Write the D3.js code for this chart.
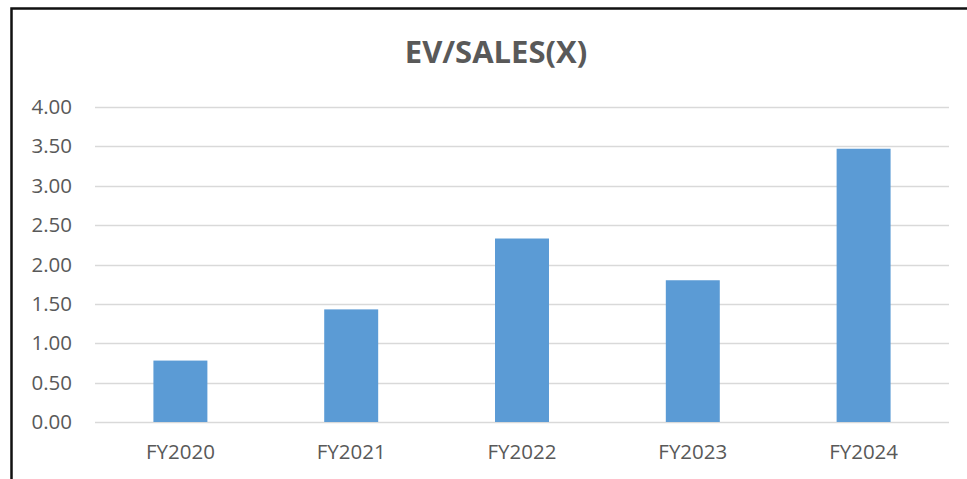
<!DOCTYPE html>
<html>
<head>
<meta charset="utf-8">
<script src="https://cdn.jsdelivr.net/npm/d3@7"></script>
<style>
  html, body { margin: 0; padding: 0; background: #ffffff; }
  svg { display: block; }
</style>
</head>
<body>
<script>
// EV/Sales multiple by fiscal year
const categories = ["FY2020", "FY2021", "FY2022", "FY2023", "FY2024"];
const evSales = [0.78, 1.43, 2.33, 1.80, 3.47];
const yTicks = [0, 0.5, 1, 1.5, 2, 2.5, 3, 3.5, 4];
const chartTitle = "EV/SALES(X)";

const W = 967, H = 479;
const margin = { left: 95, right: 18, top: 107, bottom: 57 };

const svg = d3.select("body").append("svg")
  .attr("width", W).attr("height", H);

// frame: dark rule along the top and left edge
svg.append("path")
  .attr("d", `M11.5,${H} L11.5,8.5 L${W},8.5`)
  .attr("fill", "none")
  .attr("stroke", "#111")
  .attr("stroke-width", 2.5);

const x = d3.scaleBand()
  .domain(categories)
  .range([margin.left, W - margin.right])
  .paddingInner(0.684)
  .paddingOuter(0.342);

const y = d3.scaleLinear()
  .domain([0, 4])
  .range([H - margin.bottom, margin.top]);

const font = "'Open Sans', 'Liberation Sans', sans-serif";
const textColor = "#595959";

// gridlines
svg.append("g")
  .selectAll("line")
  .data(yTicks)
  .join("line")
  .attr("x1", margin.left)
  .attr("x2", W - margin.right)
  .attr("y1", d => Math.round(y(d)) + 0.5)
  .attr("y2", d => Math.round(y(d)) + 0.5)
  .attr("stroke", "#d9d9d9")
  .attr("stroke-width", 1.5);

// y axis labels
const yAxis = d3.axisLeft(y)
  .tickValues(yTicks)
  .tickFormat(d3.format(".2f"))
  .tickSize(0)
  .tickPadding(23);

svg.append("g")
  .attr("transform", `translate(${margin.left},0)`)
  .call(yAxis)
  .call(g => g.select(".domain").remove())
  .call(g => g.selectAll("text")
    .attr("fill", textColor)
    .style("font-family", font)
    .style("font-size", "20.5px"));

// bars
svg.append("g")
  .selectAll("rect")
  .data(evSales)
  .join("rect")
  .attr("x", (d, i) => x(categories[i]))
  .attr("width", x.bandwidth())
  .attr("y", d => y(d))
  .attr("height", d => y(0) - y(d))
  .attr("fill", "#5b9bd5");

// x axis labels
const xAxis = d3.axisBottom(x).tickSize(0).tickPadding(22);
svg.append("g")
  .attr("transform", `translate(0,${y(0)})`)
  .call(xAxis)
  .call(g => g.select(".domain").remove())
  .call(g => g.selectAll("text")
    .attr("fill", textColor)
    .style("font-family", font)
    .style("font-size", "20.5px"));

// title
svg.append("text")
  .attr("x", 496)
  .attr("y", 63)
  .attr("text-anchor", "middle")
  .attr("fill", textColor)
  .style("font-family", font)
  .style("font-weight", "bold")
  .style("font-size", "31px")
  .text(chartTitle);
</script>
</body>
</html>
